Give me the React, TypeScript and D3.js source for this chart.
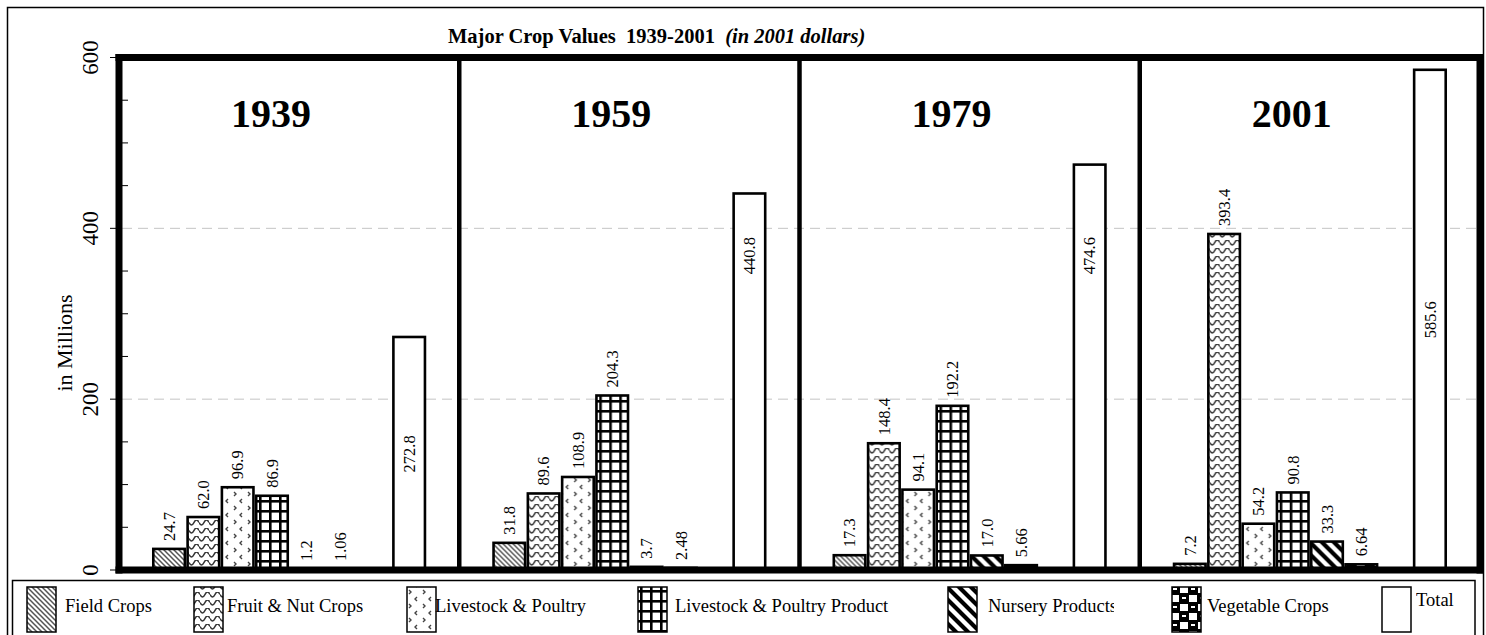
import React, { useEffect, useRef } from "react";
import * as d3 from "d3";

const years = ["1939", "1959", "1979", "2001"];
const seriesNames = [
  "Field Crops",
  "Fruit & Nut Crops",
  "Livestock & Poultry",
  "Livestock & Poultry Product",
  "Nursery Products",
  "Vegetable Crops",
  "Total",
];
const fieldCrops = [24.7, 31.8, 17.3, 7.2];
const fruitNut = [62.0, 89.6, 148.4, 393.4];
const livestock = [96.9, 108.9, 94.1, 54.2];
const livestockProducts = [86.9, 204.3, 192.2, 90.8];
const nursery = [1.2, 3.7, 17.0, 33.3];
const vegetable = [1.06, 2.48, 5.66, 6.64];
const total = [272.8, 440.8, 474.6, 585.6];
// where the total's label sits, in millions
const totalLabelAt = [136, 368, 368, 293];
const yTicks = [0, 200, 400, 600];
const yMinorTicks = [50, 100, 150, 250, 300, 350, 450, 500, 550];
const gridTicks = [200, 400];

const FONT = "'Liberation Serif', 'Times New Roman', serif";
const W = 1486;
const H = 635;

const App: React.FC = () => {
  const ref = useRef<SVGSVGElement | null>(null);

  useEffect(() => {
    const svg = d3.select(ref.current);
    svg.selectAll("*").remove();
    svg.attr("width", W).attr("height", H).attr("viewBox", `0 0 ${W} ${H}`);

    const values = [fieldCrops, fruitNut, livestock, livestockProducts, nursery, vegetable, total];
    const formats = [".1f", ".1f", ".1f", ".1f", ".1f", ".2f", ".1f"].map((f) => d3.format(f));

    // fill patterns
    const defs = svg.append("defs");
    const pattern = (id: string, w: number, h: number, bg: string) => {
      const p = defs
        .append("pattern")
        .attr("id", id)
        .attr("patternUnits", "userSpaceOnUse")
        .attr("width", w)
        .attr("height", h);
      p.append("rect").attr("width", w).attr("height", h).attr("fill", bg);
      return p;
    };
    pattern("p0", 5, 5, "#fff")
      .append("path")
      .attr("d", "M0,0 L5,5 M-1,4 L1,6 M4,-1 L6,1")
      .attr("stroke", "#555")
      .attr("stroke-width", 1.5);
    pattern("p1", 10, 8, "#fff")
      .append("path")
      .attr("d", "M0,2.5 Q2.5,7.5 5,2.5 T10,2.5")
      .attr("fill", "none")
      .attr("stroke", "#333")
      .attr("stroke-width", 1.6);
    pattern("p2", 14, 14, "#fff")
      .append("path")
      .attr("d", "M3,2 l2,2 l-2,2 M11,9 l-2,2 l2,2")
      .attr("fill", "none")
      .attr("stroke", "#444")
      .attr("stroke-width", 1.4);
    const p3 = pattern("p3", 10, 10, "#fff");
    p3.append("rect").attr("width", 10).attr("height", 2.6).attr("fill", "#000");
    p3.append("rect").attr("width", 2.6).attr("height", 10).attr("fill", "#000");
    pattern("p4", 12, 12, "#fff")
      .append("path")
      .attr("d", "M0,0 L12,12 M-2,10 L2,14 M10,-2 L14,2")
      .attr("stroke", "#000")
      .attr("stroke-width", 4.2);
    const p5 = pattern("p5", 18, 18, "#000");
    p5.append("rect").attr("x", 1).attr("y", 1).attr("width", 8).attr("height", 7).attr("fill", "#fff");
    p5.append("rect").attr("x", 10).attr("y", 10).attr("width", 8).attr("height", 7).attr("fill", "#fff");
    p5.append("rect").attr("x", 12).attr("y", 3).attr("width", 4).attr("height", 2).attr("fill", "#fff");
    p5.append("rect").attr("x", 3).attr("y", 12).attr("width", 4).attr("height", 2).attr("fill", "#fff");
    const fills = ["url(#p0)", "url(#p1)", "url(#p2)", "url(#p3)", "url(#p4)", "url(#p5)", "#fff"];

    svg.append("rect").attr("width", W).attr("height", H).attr("fill", "#fff");

    // outer border
    svg
      .append("rect")
      .attr("x", 7.5)
      .attr("y", 7.5)
      .attr("width", 1476)
      .attr("height", 640)
      .attr("fill", "none")
      .attr("stroke", "#000")
      .attr("stroke-width", 1.5);

    const left = 119;
    const right = 1480;
    const x0 = d3.scaleBand().domain(years).range([left, right]);
    const slots = ["pad0", ...seriesNames.slice(0, 6), "gap", "Total", "pad9"];
    const x1 = d3.scaleBand().domain(slots).range([0, x0.bandwidth()]).paddingInner(0.08);
    const y = d3.scaleLinear().domain([0, 600]).range([570, 57.5]);

    // Title
    const title = svg
      .append("text")
      .attr("x", 448)
      .attr("y", 43)
      .attr("font-family", FONT)
      .attr("font-size", 20.5)
      .attr("font-weight", "bold")
      .attr("xml:space", "preserve");
    title.append("tspan").text("Major Crop Values  1939-2001  ");
    title.append("tspan").attr("font-style", "italic").text("(in 2001 dollars)");

    // grid
    svg
      .append("g")
      .selectAll("line")
      .data(gridTicks)
      .join("line")
      .attr("x1", left + 3)
      .attr("x2", right - 3)
      .attr("y1", (d) => y(d))
      .attr("y2", (d) => y(d))
      .attr("stroke", "#c4c4c4")
      .attr("stroke-width", 1)
      .attr("stroke-dasharray", "10,6");

    // year labels
    svg
      .append("g")
      .selectAll("text")
      .data(years)
      .join("text")
      .attr("x", (d) => x0(d)! + 152)
      .attr("y", 127)
      .attr("text-anchor", "middle")
      .attr("font-family", FONT)
      .attr("font-size", 40)
      .attr("font-weight", "bold")
      .text((d) => d);

    // bars
    const panels = svg
      .append("g")
      .selectAll("g")
      .data(years)
      .join("g")
      .attr("transform", (d) => `translate(${x0(d)},0)`);

    seriesNames.forEach((name, k) => {
      panels
        .append("rect")
        .attr("x", x1(name)!)
        .attr("y", (_d, i) => y(values[k][i]))
        .attr("width", x1.bandwidth())
        .attr("height", (_d, i) => 570 - y(values[k][i]))
        .attr("fill", fills[k])
        .attr("stroke", "#000")
        .attr("stroke-width", 2.6);

      panels
        .append("text")
        .attr("transform", (_d, i) => {
          const cx = x1(name)! + x1.bandwidth() / 2;
          const yy = name === "Total" ? y(totalLabelAt[i]) : y(values[k][i]) - 8;
          return `translate(${cx},${yy}) rotate(-90)`;
        })
        .attr("dy", "0.35em")
        .attr("text-anchor", name === "Total" ? "middle" : "start")
        .attr("font-family", FONT)
        .attr("font-size", 16.5)
        .text((_d, i) => formats[k](values[k][i]));
    });

    // frame
    const frame = svg.append("g").attr("stroke", "#000").attr("stroke-linecap", "square");
    [y(600), y(0)].forEach((yy) => {
      frame
        .append("line")
        .attr("x1", left)
        .attr("x2", right)
        .attr("y1", yy)
        .attr("y2", yy)
        .attr("stroke-width", 7);
    });
    [left, right].forEach((xx) => {
      frame
        .append("line")
        .attr("x1", xx)
        .attr("x2", xx)
        .attr("y1", y(600))
        .attr("y2", y(0))
        .attr("stroke-width", 7);
    });
    frame
      .selectAll("line.div")
      .data(years.slice(1))
      .join("line")
      .attr("class", "div")
      .attr("x1", (d) => x0(d)!)
      .attr("x2", (d) => x0(d)!)
      .attr("y1", y(600))
      .attr("y2", y(0))
      .attr("stroke-width", 4.5);

    // y axis ticks
    svg
      .append("g")
      .selectAll("line")
      .data(yTicks)
      .join("line")
      .attr("x1", left - 9)
      .attr("x2", left)
      .attr("y1", (d) => y(d))
      .attr("y2", (d) => y(d))
      .attr("stroke", "#000")
      .attr("stroke-width", 1);
    svg
      .append("g")
      .selectAll("line")
      .data(yMinorTicks)
      .join("line")
      .attr("x1", left)
      .attr("x2", left + 9)
      .attr("y1", (d) => y(d))
      .attr("y2", (d) => y(d))
      .attr("stroke", "#000")
      .attr("stroke-width", 1);
    svg
      .append("g")
      .selectAll("text")
      .data(yTicks)
      .join("text")
      .attr("transform", (d) => `translate(90,${y(d)}) rotate(-90)`)
      .attr("dy", "0.35em")
      .attr("text-anchor", "middle")
      .attr("font-family", FONT)
      .attr("font-size", 23)
      .text((d) => d);
    svg
      .append("text")
      .attr("transform", "translate(64,343) rotate(-90)")
      .attr("dy", "0.35em")
      .attr("text-anchor", "middle")
      .attr("font-family", FONT)
      .attr("font-size", 22)
      .text("in Millions");

    // Legend
    svg
      .append("rect")
      .attr("x", 12.5)
      .attr("y", 580.5)
      .attr("width", 1462.5)
      .attr("height", 70)
      .attr("fill", "#fff")
      .attr("stroke", "#000")
      .attr("stroke-width", 1.5);

    const legendX = [27, 194, 407, 638, 948, 1172, 1382];
    const legendTextX = [65, 227, 435, 675, 988, 1207, 1416];
    const legendClip = [200, 200, 200, 260, 126, 200, 80];

    seriesNames.forEach((name, k) => {
      const row = svg.append("g");
      row
        .append("rect")
        .attr("x", legendX[k])
        .attr("y", 587)
        .attr("width", 29)
        .attr("height", 45)
        .attr("fill", fills[k])
        .attr("stroke", "#000")
        .attr("stroke-width", 1.5);
      defs
        .append("clipPath")
        .attr("id", `lc${k}`)
        .append("rect")
        .attr("x", legendTextX[k])
        .attr("y", 585)
        .attr("width", legendClip[k])
        .attr("height", 40);
      row
        .append("text")
        .attr("x", legendTextX[k])
        .attr("y", name === "Total" ? 606 : 612)
        .attr("clip-path", `url(#lc${k})`)
        .attr("font-family", FONT)
        .attr("font-size", 18.5)
        .text(name);
    });
  }, []);

  return (
    <svg
      ref={ref}
      style={{ position: "absolute", left: 0, top: 0, display: "block" }}
    />
  );
};

export default App;
